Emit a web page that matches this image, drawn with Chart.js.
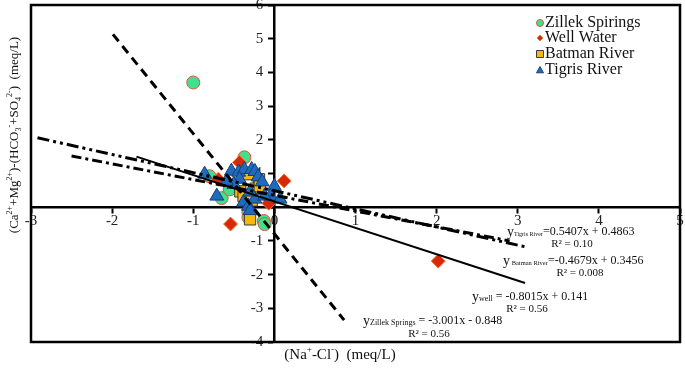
<!DOCTYPE html>
<html>
<head>
<meta charset="utf-8">
<script src="https://cdn.jsdelivr.net/npm/chart.js@4/dist/chart.umd.min.js"></script>
<style>
  body { margin: 0; background: #fff; }
  #wrap { width: 685px; height: 370px; }
</style>
</head>
<body>
<div id="wrap"><canvas id="chart" width="685" height="370"></canvas></div>
<script>
// sample points, (Na-Cl) vs (Ca+Mg)-(HCO3+SO4), meq/L
const zillekX = [-1.0, -0.37, -0.8, -0.65, -0.55, -0.32, -0.13, -0.32, -0.12];
const zillekY = [3.7, 1.48, 0.92, 0.27, 0.53, -0.15, -0.41, -0.3, -0.5];

const wellX = [2.02, 0.12, -0.54, -0.43, -0.69, -0.07];
const wellY = [-1.6, 0.78, -0.5, 1.33, 0.83, 0.12];

const batmanX = [-0.3, -0.19, -0.32, -0.42, -0.38, -0.23, -0.28, -0.18];
const batmanY = [-0.36, 0.83, 0.98, 0.47, 0.33, 0.55, 0.2, 0.62];

const tigrisX = [-0.71, -0.86, -0.53, -0.44, -0.37, -0.28, -0.24, -0.43, -0.5, -0.59, 0.0, -0.05, 0.07, -0.38, -0.32, -0.24, -0.12, -0.3, -0.2, -0.15, -0.3];
const tigrisY = [0.33, 0.98, 1.07, 1.04, 1.12, 1.12, 1.06, 0.83, 0.68, 0.77, 0.62, 0.33, 0.24, 0.15, 0.03, 0.24, 0.33, 0.45, 0.9, 0.75, -0.1];

// trend line end points as drawn
const zillekFitX = [-1.99, 0.86];
const zillekFitY = [5.13, -3.35];
const wellFitX = [-1.7, 3.09];
const wellFitY = [1.5, -2.25];
const tigrisFitX = [-2.92, 3.1];
const tigrisFitY = [2.06, -1.18];
const batmanFitX = [-2.5, 2.9];
const batmanFitY = [1.52, -1.0];

const xTicks = [-3, -2, -1, 0, 1, 2, 3, 4, 5];
const yTicks = [-4, -3, -2, -1, 0, 1, 2, 3, 4, 5, 6];

const seriesNames = ["Zillek Spirings", "Well Water", "Batman River", "Tigris River"];

const equations = [
  { name: "Tigris River", eq: "=0.5407x + 0.4863", r2: "R² = 0.10" },
  { name: " Batman River", eq: "=-0.4679x + 0.3456", r2: "R² = 0.008" },
  { name: "well", eq: " = -0.8015x + 0.141", r2: "R² = 0.56" },
  { name: "Zillek Springs", eq: " = -3.001x - 0.848", r2: "R² = 0.56" }
];

function toPoints(xs, ys) {
  return xs.map((x, i) => ({ x: x, y: ys[i] }));
}

const SERIF = '"Liberation Serif", "Times New Roman", "DejaVu Serif", serif';

const styles = {
  zillek: { pointStyle: "circle", radius: 6.5, bg: "#3fe28c", border: "#e0553a" },
  well: { pointStyle: "rectRot", radius: 7, bg: "#d8280c", border: "#f07a2a" },
  batman: { pointStyle: "rect", radius: 8, bg: "#f6b90a", border: "#3a3a3a" },
  tigris: { pointStyle: "triangle", radius: 8, bg: "#1f6bbd", border: "#1b3f73" }
};

function pointSet(label, pts, st, order) {
  return {
    label: label,
    data: pts,
    order: order,
    pointStyle: st.pointStyle,
    pointRadius: st.radius,
    backgroundColor: st.bg,
    borderColor: st.border,
    borderWidth: 1,
    showLine: false
  };
}

function fitSet(label, pts, dash, width) {
  return {
    label: label,
    data: pts,
    order: 0,
    showLine: true,
    pointRadius: 0,
    borderColor: "#000",
    borderWidth: width,
    borderDash: dash,
    fill: false
  };
}

function drawRich(ctx, parts, x, y, align) {
  // parts: [text, size, shift]
  const widths = parts.map(p => {
    ctx.font = p[1] + "px " + SERIF;
    return ctx.measureText(p[0]).width;
  });
  const total = widths.reduce((a, b) => a + b, 0);
  let cx = align === "center" ? x - total / 2 : x;
  ctx.textAlign = "left";
  ctx.textBaseline = "middle";
  parts.forEach((p, i) => {
    ctx.font = p[1] + "px " + SERIF;
    ctx.fillText(p[0], cx, y + (p[2] || 0));
    cx += widths[i];
  });
}

function drawMarker(ctx, st, x, y, r) {
  ctx.fillStyle = st.bg;
  ctx.strokeStyle = st.border;
  ctx.lineWidth = 1;
  ctx.beginPath();
  if (st.pointStyle === "circle") {
    ctx.arc(x, y, r, 0, Math.PI * 2);
  } else if (st.pointStyle === "rectRot") {
    ctx.moveTo(x, y - r); ctx.lineTo(x + r, y); ctx.lineTo(x, y + r); ctx.lineTo(x - r, y); ctx.closePath();
  } else if (st.pointStyle === "rect") {
    ctx.rect(x - r, y - r, 2 * r, 2 * r);
  } else {
    ctx.moveTo(x, y - r); ctx.lineTo(x + r, y + r * 0.8); ctx.lineTo(x - r, y + r * 0.8); ctx.closePath();
  }
  ctx.fill();
  ctx.stroke();
}

const decorPlugin = {
  id: "decor",
  afterDraw(chart) {
    const ctx = chart.ctx;
    const a = chart.chartArea;
    ctx.save();

    // frame
    ctx.strokeStyle = "#000";
    ctx.lineWidth = 2.5;
    ctx.strokeRect(a.left, a.top, a.right - a.left, a.bottom - a.top);

    // legend
    const legStyles = [styles.zillek, styles.well, styles.batman, styles.tigris];
    const legY = [23, 38, 54, 70];
    seriesNames.forEach((n, i) => {
      const r = i === 1 ? 3 : 3.5;
      drawMarker(ctx, legStyles[i], 540, legY[i], r);
      ctx.fillStyle = "#111";
      drawRich(ctx, [[n, 16]], 545, legY[i], "left");
    });

    // regression equations
    const eqPos = [[507, 232, 572, 244], [503, 261, 580, 273], [472, 297, 527, 309], [363, 321, 429, 334]];
    const subSize = [6, 6.5, 8, 8];
    equations.forEach((e, i) => {
      const p = eqPos[i];
      drawRich(ctx, [["y", 14], [e.name, subSize[i], 2], [e.eq, 12]], p[0], p[1], "left");
      drawRich(ctx, [[e.r2, 11]], p[2], p[3], "center");
    });

    // axis titles
    drawRich(ctx, [["(Na", 15], ["+", 9, -5], ["-Cl", 15], ["-", 9, -5], [")  (meq/L)", 15]], 340, 355, "center");

    ctx.translate(15, 135);
    ctx.rotate(-Math.PI / 2);
    drawRich(ctx, [
      ["(Ca", 13], ["2+", 8, -5], ["+Mg", 13], ["2+", 8, -5], [")-(HCO", 13], ["3", 8, 4], ["-", 8, -5],
      ["+SO", 13], ["4", 8, 4], ["2-", 8, -5], [")  (meq/L)", 13]
    ], 0, 0, "center");

    ctx.restore();
  }
};

const tickFont = { family: SERIF, size: 15 };

new Chart(document.getElementById("chart").getContext("2d"), {
  type: "scatter",
  data: {
    datasets: [
      fitSet("Zillek fit", toPoints(zillekFitX, zillekFitY), [9, 6], 3),
      fitSet("Well fit", toPoints(wellFitX, wellFitY), [], 2),
      fitSet("Tigris fit", toPoints(tigrisFitX, tigrisFitY), [12, 4, 3, 4, 3, 4], 3),
      fitSet("Batman fit", toPoints(batmanFitX, batmanFitY), [10, 4, 3, 4], 3),
      pointSet(seriesNames[3], toPoints(tigrisX, tigrisY), styles.tigris, 1),
      pointSet(seriesNames[1], toPoints(wellX, wellY), styles.well, 2),
      pointSet(seriesNames[2], toPoints(batmanX, batmanY), styles.batman, 3),
      pointSet(seriesNames[0], toPoints(zillekX, zillekY), styles.zillek, 4)
    ]
  },
  options: {
    responsive: false,
    animation: false,
    layout: { autoPadding: false, padding: { left: 31, right: 5, top: 5, bottom: 28 } },
    plugins: {
      legend: { display: false },
      tooltip: { enabled: false }
    },
    scales: {
      x: {
        type: "linear",
        min: -3,
        max: 5,
        position: { y: 0 },
        afterFit: s => { s.height = 0; s.paddingLeft = 0; s.paddingRight = 0; },
        afterBuildTicks: s => { s.ticks = xTicks.map(v => ({ value: v })); },
        ticks: { font: tickFont, color: "#222", padding: 0 },
        grid: { drawOnChartArea: false, tickLength: 5, tickWidth: 2, color: "#000" },
        border: { color: "#000", width: 2.5 }
      },
      y: {
        type: "linear",
        min: -4,
        max: 6,
        position: { x: 0 },
        afterFit: s => { s.width = 0; s.paddingTop = 0; s.paddingBottom = 0; },
        afterBuildTicks: s => { s.ticks = yTicks.map(v => ({ value: v })); },
        ticks: {
          font: tickFont,
          color: "#222",
          callback: v => (v === 0 ? "" : v + "   ")
        },
        grid: { drawOnChartArea: false, tickLength: 5, tickWidth: 2, color: "#000" },
        border: { color: "#000", width: 2.5 }
      }
    }
  },
  plugins: [decorPlugin]
});
</script>
</body>
</html>
